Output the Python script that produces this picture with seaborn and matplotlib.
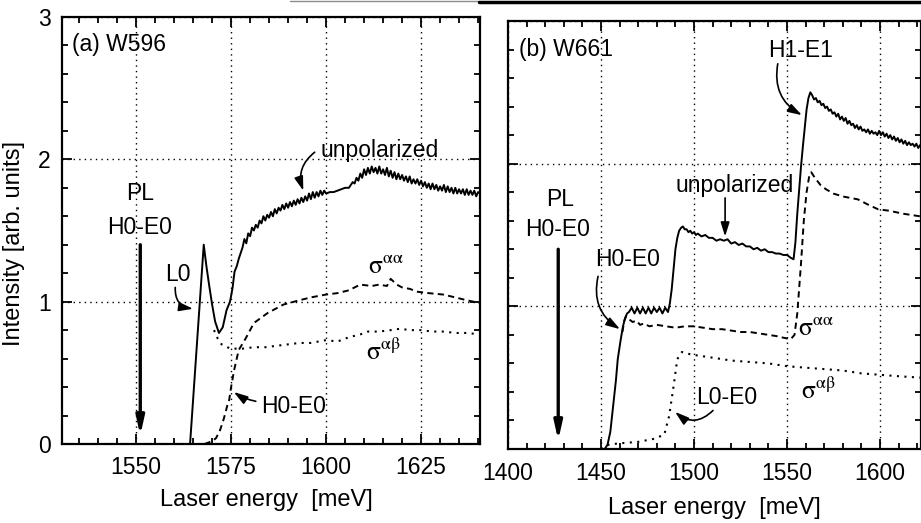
import matplotlib
matplotlib.use("Agg")
import matplotlib.pyplot as plt
import seaborn as sns
import numpy as np
import pandas as pd
from matplotlib.ticker import MultipleLocator
from matplotlib.lines import Line2D

# ---------------- data: panel (a) W596 ----------------
a_unpol_E = [1530.5, 1564.2, 1565.0, 1566.0, 1567.0, 1567.8, 1568.5, 1569.2, 1570.0, 1570.8,
             1571.8, 1572.8, 1573.8, 1574.7, 1575.0, 1575.4, 1575.9, 1576.5, 1577.0, 1577.5,
             1578.0, 1578.5, 1579.0, 1579.5, 1580.0, 1580.5, 1581.0, 1581.5, 1582.0, 1582.5,
             1583.0, 1583.5, 1584.0, 1584.5, 1585.0, 1585.5, 1586.0, 1586.5, 1587.0, 1587.5,
             1588.0, 1588.5, 1589.0, 1589.5, 1590.0, 1590.5, 1591.0, 1591.5, 1592.0, 1592.5,
             1593.0, 1593.5, 1594.0, 1594.5, 1595.0, 1595.5, 1596.0, 1596.5, 1597.0, 1597.5,
             1598.0, 1598.5, 1599.0, 1599.5, 1600.0, 1601.0, 1602.0, 1603.0, 1604.0, 1605.0,
             1606.0, 1606.5, 1607.0, 1607.5, 1608.0, 1608.5, 1609.0, 1609.5, 1610.0, 1610.5,
             1611.0, 1611.5, 1612.0, 1612.5, 1613.0, 1613.5, 1614.0, 1614.5, 1615.0, 1615.5,
             1616.0, 1616.5, 1617.0, 1617.5, 1618.0, 1618.5, 1619.0, 1619.5, 1620.0, 1620.5,
             1621.0, 1621.5, 1622.0, 1622.5, 1623.0, 1623.5, 1624.0, 1624.5, 1625.0, 1625.5,
             1626.0, 1626.5, 1627.0, 1627.5, 1628.0, 1628.5, 1629.0, 1629.5, 1630.0, 1630.5,
             1631.0, 1631.5, 1632.0, 1632.5, 1633.0, 1633.5, 1634.0, 1634.5, 1635.0, 1635.5,
             1636.0, 1636.5, 1637.0, 1637.5, 1638.0, 1638.5, 1639.0, 1639.5, 1640.0, 1640.5]
a_unpol_I = [0.00, 0.00, 0.31, 0.70, 1.08, 1.40, 1.25, 1.12, 0.98, 0.86,
             0.78, 0.82, 0.94, 1.00, 1.04, 1.10, 1.21, 1.25, 1.30, 1.34,
             1.38, 1.44, 1.41, 1.48, 1.46, 1.52, 1.50, 1.54, 1.52, 1.57,
             1.55, 1.60, 1.57, 1.61, 1.59, 1.63, 1.60, 1.65, 1.62, 1.66,
             1.64, 1.68, 1.65, 1.69, 1.66, 1.70, 1.67, 1.71, 1.68, 1.72,
             1.69, 1.73, 1.70, 1.74, 1.71, 1.76, 1.72, 1.77, 1.73, 1.77,
             1.74, 1.78, 1.75, 1.78, 1.76, 1.77, 1.77, 1.78, 1.79, 1.80,
             1.80, 1.82, 1.84, 1.83, 1.87, 1.85, 1.90, 1.87, 1.93, 1.89,
             1.94, 1.90, 1.95, 1.91, 1.94, 1.90, 1.95, 1.90, 1.93, 1.89,
             1.94, 1.88, 1.92, 1.87, 1.91, 1.86, 1.90, 1.86, 1.89, 1.85,
             1.88, 1.84, 1.88, 1.83, 1.86, 1.83, 1.86, 1.82, 1.85, 1.81,
             1.84, 1.80, 1.83, 1.79, 1.83, 1.79, 1.82, 1.78, 1.81, 1.78,
             1.82, 1.77, 1.81, 1.77, 1.80, 1.76, 1.80, 1.76, 1.79, 1.76,
             1.79, 1.75, 1.79, 1.75, 1.78, 1.75, 1.78, 1.74, 1.77, 1.76]

a_aa_E = [1568.0, 1569.0, 1570.0, 1571.0, 1572.0, 1573.0, 1574.0, 1574.5, 1575.0, 1575.8,
          1577.0, 1578.8, 1581.0, 1584.6, 1588.8, 1593.0, 1596.0, 1600.0, 1603.0, 1606.0,
          1609.0, 1612.0, 1614.0, 1616.0, 1617.0, 1618.6, 1620.0, 1622.0, 1624.0, 1627.0,
          1630.8, 1634.0, 1637.0, 1640.5]
a_aa_I = [0.00, 0.01, 0.02, 0.04, 0.09, 0.17, 0.27, 0.31, 0.40, 0.52,
          0.66, 0.74, 0.85, 0.92, 0.98, 1.01, 1.03, 1.05, 1.06, 1.08,
          1.12, 1.11, 1.12, 1.11, 1.16, 1.12, 1.10, 1.09, 1.07, 1.06,
          1.05, 1.03, 1.01, 0.99]

a_ab_E = [1570.5, 1571.5, 1572.5, 1574.0, 1575.0, 1578.0, 1581.0, 1584.0, 1587.0, 1590.0,
          1593.0, 1596.0, 1600.0, 1603.0, 1606.0, 1609.0, 1611.0, 1614.0, 1617.0, 1619.5,
          1622.0, 1625.0, 1628.0, 1631.0, 1634.0, 1637.0, 1640.5]
a_ab_I = [0.80, 0.74, 0.70, 0.68, 0.67, 0.67, 0.68, 0.68, 0.69, 0.70,
          0.71, 0.71, 0.73, 0.72, 0.75, 0.77, 0.79, 0.79, 0.80, 0.81,
          0.80, 0.80, 0.79, 0.79, 0.78, 0.78, 0.77]

# ---------------- data: panel (b) W661 ----------------
b_unpol_E = [1400.0, 1452.0, 1453.5, 1455.0, 1456.5, 1458.0, 1459.0, 1460.5, 1461.8, 1463.0,
             1464.0, 1465.0, 1466.5, 1468.0, 1469.5, 1471.0, 1472.5, 1474.0, 1475.5, 1477.0,
             1478.5, 1480.0, 1481.5, 1483.0, 1484.5, 1486.0, 1487.0, 1488.0, 1489.0, 1490.0,
             1491.0, 1492.0, 1493.0, 1494.0, 1495.0, 1496.0, 1497.0, 1498.0, 1499.0, 1500.0,
             1501.0, 1502.0, 1504.0, 1506.0, 1508.0, 1510.0, 1512.0, 1514.0, 1516.0, 1518.0,
             1520.0, 1522.0, 1524.0, 1526.0, 1528.0, 1530.0, 1532.0, 1534.0, 1536.0, 1538.0,
             1540.0, 1542.0, 1544.0, 1546.0, 1548.0, 1550.0, 1552.0, 1553.5, 1554.5, 1555.5,
             1556.5, 1557.5, 1558.5, 1559.5, 1560.5, 1561.5, 1562.5, 1563.5, 1564.5, 1565.5,
             1566.5, 1567.5, 1568.5, 1569.5, 1570.5, 1571.5, 1572.5, 1573.5, 1574.5, 1575.5,
             1576.5, 1577.5, 1578.5, 1579.5, 1580.5, 1581.5, 1582.5, 1583.5, 1584.5, 1585.5,
             1586.5, 1587.5, 1588.5, 1589.5, 1590.5, 1591.5, 1592.5, 1593.5, 1594.5, 1595.5,
             1596.5, 1597.5, 1598.5, 1599.5, 1600.5, 1601.5, 1602.5, 1603.5, 1604.5, 1605.5,
             1606.5, 1607.5, 1608.5, 1609.5, 1610.5, 1611.5, 1612.5, 1613.5, 1614.5, 1615.5,
             1616.5, 1617.5, 1618.5, 1619.5, 1620.5, 1621.5, 1622.0]
b_unpol_I = [0.00, 0.00, 0.03, 0.12, 0.30, 0.48, 0.63, 0.76, 0.86, 0.92,
             0.95, 0.96, 0.99, 0.95, 0.99, 0.95, 0.99, 0.95, 0.99, 0.95,
             0.99, 0.96, 0.99, 0.95, 0.99, 0.96, 1.02, 1.12, 1.26, 1.40,
             1.48, 1.53, 1.55, 1.56, 1.54, 1.54, 1.52, 1.53, 1.51, 1.52,
             1.50, 1.51, 1.49, 1.50, 1.48, 1.48, 1.46, 1.47, 1.46, 1.47,
             1.44, 1.45, 1.43, 1.44, 1.42, 1.42, 1.40, 1.41, 1.39, 1.40,
             1.38, 1.38, 1.37, 1.37, 1.36, 1.36, 1.34, 1.33, 1.45, 1.65,
             1.82, 1.98, 2.12, 2.25, 2.38, 2.46, 2.50, 2.48, 2.45, 2.46,
             2.43, 2.44, 2.41, 2.42, 2.39, 2.40, 2.37, 2.38, 2.35, 2.36,
             2.33, 2.35, 2.31, 2.33, 2.30, 2.32, 2.28, 2.30, 2.27, 2.28,
             2.25, 2.27, 2.24, 2.26, 2.23, 2.24, 2.22, 2.24, 2.21, 2.23,
             2.21, 2.22, 2.20, 2.23, 2.20, 2.22, 2.19, 2.21, 2.18, 2.20,
             2.17, 2.19, 2.16, 2.18, 2.15, 2.17, 2.14, 2.16, 2.13, 2.15,
             2.13, 2.14, 2.12, 2.14, 2.11, 2.13, 2.12]

b_aa_E = [1461.5, 1462.5, 1463.5, 1465.0, 1467.0, 1469.0, 1471.0, 1473.0, 1476.0, 1480.0,
          1485.0, 1490.0, 1495.0, 1500.0, 1505.0, 1510.0, 1515.0, 1520.0, 1525.0, 1530.0,
          1535.0, 1540.0, 1545.0, 1548.0, 1552.0, 1554.0, 1555.5, 1557.5, 1559.0, 1560.5,
          1562.0, 1563.0, 1565.0, 1568.0, 1571.0, 1575.0, 1580.0, 1588.0, 1594.0, 1599.0,
          1605.0, 1612.0, 1622.0]
b_aa_I = [0.82, 0.90, 0.93, 0.91, 0.89, 0.90, 0.87, 0.88, 0.86, 0.87,
          0.86, 0.85, 0.86, 0.86, 0.85, 0.84, 0.84, 0.83, 0.82, 0.82,
          0.81, 0.80, 0.79, 0.78, 0.77, 0.80, 0.95, 1.30, 1.60, 1.80,
          1.92, 1.94, 1.90, 1.85, 1.82, 1.79, 1.77, 1.75, 1.71, 1.68,
          1.67, 1.65, 1.63]

b_ab_E = [1450.0, 1454.0, 1460.0, 1470.0, 1478.0, 1484.0, 1486.6, 1489.0, 1491.0, 1493.5,
          1496.0, 1499.5, 1510.0, 1520.0, 1530.0, 1540.0, 1550.0, 1560.0, 1570.0, 1580.0,
          1590.0, 1600.0, 1610.0, 1622.0]
b_ab_I = [0.00, 0.03, 0.04, 0.05, 0.07, 0.10, 0.23, 0.44, 0.63, 0.68,
          0.67, 0.66, 0.64, 0.62, 0.61, 0.60, 0.58, 0.57, 0.56, 0.55,
          0.53, 0.52, 0.51, 0.50]

x_label = "Laser energy  [meV]"
y_label = "Intensity [arb. units]"

# ---------------- styling ----------------
sns.set_theme(style="ticks")
plt.rcParams["font.family"] = ["Liberation Sans", "DejaVu Sans"]
plt.rcParams["mathtext.fontset"] = "stix"
plt.rcParams["text.color"] = "black"
plt.rcParams["axes.labelcolor"] = "black"
plt.rcParams["xtick.color"] = "black"
plt.rcParams["ytick.color"] = "black"

fig = plt.figure(figsize=(9.21, 5.23), dpi=100)
fig.patch.set_facecolor("white")
W, H = 921.0, 523.0
axL = fig.add_axes([62 / W, 1 - 444 / H, 418 / W, 427 / H])
axR = fig.add_axes([508 / W, 1 - 449 / H, 413 / W, 428 / H])

LW = 1.4
DASH = (0, (3.2, 2.2))
DOT = (0, (1, 2.6))


def draw(ax, E, I, ls, lw=LW):
    df = pd.DataFrame({"E": E, "I": I})
    sns.lineplot(data=df, x="E", y="I", ax=ax, color="black", linestyle=ls,
                 linewidth=lw, estimator=None, sort=False)


draw(axL, a_unpol_E, a_unpol_I, "-")
draw(axL, a_aa_E, a_aa_I, DASH)
draw(axL, a_ab_E, a_ab_I, DOT, lw=1.5)
draw(axR, b_unpol_E, b_unpol_I, "-")
draw(axR, b_aa_E, b_aa_I, DASH)
draw(axR, b_ab_E, b_ab_I, DOT, lw=1.5)

TICKFS = 16.5


def style(ax, xlim, major, minor):
    ax.set_xlim(*xlim)
    ax.set_ylim(0, 3)
    ax.xaxis.set_major_locator(MultipleLocator(major))
    ax.xaxis.set_minor_locator(MultipleLocator(minor))
    ax.yaxis.set_major_locator(MultipleLocator(1))
    ax.yaxis.set_minor_locator(MultipleLocator(0.2))
    ax.tick_params(which="both", direction="in", top=True, right=True,
                   width=1.3, colors="black", labelsize=TICKFS)
    ax.tick_params(which="major", length=7)
    ax.tick_params(which="minor", length=4)
    ax.tick_params(axis="x", which="major", pad=9)
    ax.tick_params(axis="y", which="major", pad=8)
    ax.grid(True, which="major", color="black", linestyle=(0, (1, 3)), linewidth=1.0)
    ax.set_axisbelow(True)
    for s in ax.spines.values():
        s.set_linewidth(1.6)
        s.set_color("black")
        s.set_visible(True)
    ax.set_facecolor("white")


style(axL, (1530.5, 1640.5), 25, 5)
style(axR, (1400, 1622), 50, 10)
axR.tick_params(axis="y", labelleft=False)

LABFS = 17
axL.set_xlabel(x_label, fontsize=LABFS)
axL.xaxis.set_label_coords(0.49, -0.105)
axL.set_ylabel(y_label, fontsize=LABFS)
axL.yaxis.set_label_coords(-0.088, 0.47)
axR.set_xlabel(x_label, fontsize=LABFS)
axR.xaxis.set_label_coords(0.50, -0.112)
axR.set_ylabel("")

FS = 16.5
SIG = FS + 2
thin = dict(arrowstyle="-|>,head_length=0.7,head_width=0.22", color="black",
            lw=1.2, shrinkA=0, shrinkB=0)
thick = dict(arrowstyle="-|>,head_length=0.9,head_width=0.2", color="black",
             lw=2.4, shrinkA=0, shrinkB=0)
s_aa = r"$\mathrm{\sigma}^{\mathrm{\alpha\alpha}}$"
s_ab = r"$\mathrm{\sigma}^{\mathrm{\alpha\beta}}$"

# panel (a) annotations
axL.text(1533.2, 2.81, "(a) W596", fontsize=FS, ha="left", va="center")
axL.text(1551, 1.76, "PL", fontsize=FS, ha="center", va="center")
axL.text(1551, 1.52, "H0-E0", fontsize=FS, ha="center", va="center")
axL.annotate("", xy=(1551.1, 0.06), xytext=(1551.1, 1.40), arrowprops=thick)
axL.text(1561, 1.19, "L0", fontsize=FS, ha="center", va="center")
axL.annotate("", xy=(1565.0, 0.95), xytext=(1560.3, 1.10),
             arrowprops=dict(thin, connectionstyle="arc3,rad=0.45"))
axL.text(1591.5, 0.26, "H0-E0", fontsize=FS, ha="center", va="center")
axL.annotate("", xy=(1575.7, 0.365), xytext=(1581.5, 0.30),
             arrowprops=dict(thin, connectionstyle="arc3,rad=-0.1"))
axL.text(1614.0, 2.06, "unpolarized", fontsize=FS, ha="center", va="center")
axL.annotate("", xy=(1594.0, 1.78), xytext=(1597.0, 2.05),
             arrowprops=dict(thin, connectionstyle="arc3,rad=0.35"))
axL.text(1615.8, 1.25, s_aa, fontsize=SIG, ha="center", va="center")
axL.text(1615.0, 0.65, s_ab, fontsize=SIG, ha="center", va="center")

# panel (b) annotations
axR.text(1406.0, 2.80, "(b) W661", fontsize=FS, ha="left", va="center")
axR.text(1557.5, 2.79, "H1-E1", fontsize=FS, ha="center", va="center")
axR.annotate("", xy=(1558.0, 2.34), xytext=(1545.0, 2.70),
             arrowprops=dict(thin, connectionstyle="arc3,rad=0.35"))
axR.text(1522, 1.85, "unpolarized", fontsize=FS, ha="center", va="center")
axR.annotate("", xy=(1516.7, 1.49), xytext=(1516.7, 1.76), arrowprops=thin)
axR.text(1428, 1.75, "PL", fontsize=FS, ha="center", va="center")
axR.text(1426.5, 1.54, "H0-E0", fontsize=FS, ha="center", va="center")
axR.annotate("", xy=(1427.0, 0.06), xytext=(1427.0, 1.40), arrowprops=thick)
axR.text(1464, 1.33, "H0-E0", fontsize=FS, ha="center", va="center")
axR.annotate("", xy=(1460.2, 0.84), xytext=(1448.4, 1.21),
             arrowprops=dict(thin, connectionstyle="arc3,rad=0.35"))
axR.text(1565.6, 0.85, s_aa, fontsize=SIG, ha="center", va="center")
axR.text(1517.7, 0.36, "L0-E0", fontsize=FS, ha="center", va="center")
axR.annotate("", xy=(1489.8, 0.26), xytext=(1510.2, 0.27),
             arrowprops=dict(thin, connectionstyle="arc3,rad=-0.45"))
axR.text(1566.7, 0.41, s_ab, fontsize=SIG, ha="center", va="center")

# scan border line at the top of the page
fig.add_artist(Line2D([0.315, 0.52], [0.998, 0.998], transform=fig.transFigure,
                      color="0.55", lw=1.0))
fig.add_artist(Line2D([0.52, 1.0], [0.997, 0.997], transform=fig.transFigure,
                      color="black", lw=2.5))

fig.savefig("out.png", dpi=100, facecolor="white")
